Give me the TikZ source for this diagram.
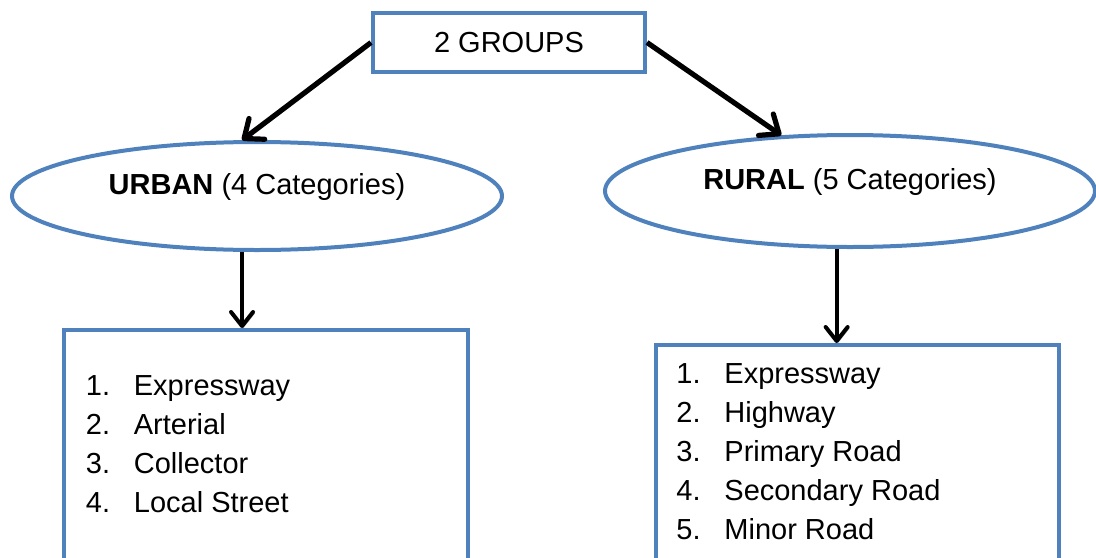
\documentclass[tikz,border=0pt]{standalone}
\usepackage{fontspec}
\setmainfont{Liberation Sans}
\usetikzlibrary{arrows.meta, shapes.geometric}
\definecolor{cFrame}{HTML}{4F81BD}
\newcommand{\diagfont}{\fontsize{14.5}{19.5}\selectfont}
\tikzset{
  groupbox/.style={
    rectangle, draw=cFrame, line width=2pt, minimum width=136pt,
    minimum height=29.5pt, font=\diagfont
  },
  area/.style={
    ellipse, draw=cFrame, line width=2pt, minimum width=245pt,
    minimum height=54pt, inner sep=0pt, font=\diagfont,
    text height=10.6pt, text depth=12.1pt
  },
  listbox/.style={
    rectangle, draw=cFrame, line width=2pt, minimum width=202pt,
    minimum height=160pt, anchor=north
  },
  listtext/.style={inner sep=0pt, anchor=base west, font=\diagfont},
  shade arrow/.style={
    preaction={draw=black!35, transform canvas={shift={(0.7pt,-0.7pt)}}}
  },
  arrow/.style={-{Straight Barb[round, length=8pt, width=13pt]},
    line width=2.6pt, shade arrow},
  downarrow/.style={-{Straight Barb[round, length=7pt, width=11pt]},
    line width=2pt, shade arrow},
}

\begin{document}
\begin{tikzpicture}[x=0.5pt, y=-0.5pt]

  \useasboundingbox (0,0) rectangle (1096,557);
  \clip (0,0) rectangle (1096,557);

  \node[groupbox] (groups) at (509,42.5) {2 GROUPS};

  \node[area] (urban) at (257,196) {\textbf{URBAN} (4 Categories)};
  \node[area, minimum height=56pt] (rural) at (850,191) {\textbf{RURAL} (5 Categories)};

  \node[listbox] (ubox) at (265.5,328) {};
  \node[listbox, minimum width=201.5pt] (rbox) at (857.5,343) {};

  \node[listtext] (ulist) at ([xshift=12pt, yshift=-33.5pt]ubox.north west) {%
    \begin{tabular}[t]{@{}p{24pt}@{}l@{}}
      1. & Expressway\\
      2. & Arterial\\
      3. & Collector\\
      4. & Local Street
    \end{tabular}};
  \node[listtext] (rlist) at ([xshift=11pt, yshift=-20pt]rbox.north west) {%
    \begin{tabular}[t]{@{}p{24pt}@{}l@{}}
      1. & Expressway\\
      2. & Highway\\
      3. & Primary Road\\
      4. & Secondary Road\\
      5. & Minor Road
    \end{tabular}};

  \draw[arrow] (groups.west) -- (urban.105);
  \draw[arrow] (groups.east) -- (rural.141.5);
  \draw[downarrow] (urban.255) -- (urban.255 |- ubox.north);
  \draw[downarrow] (rural.257) -- (rural.257 |- rbox.north);

\end{tikzpicture}
\end{document}
